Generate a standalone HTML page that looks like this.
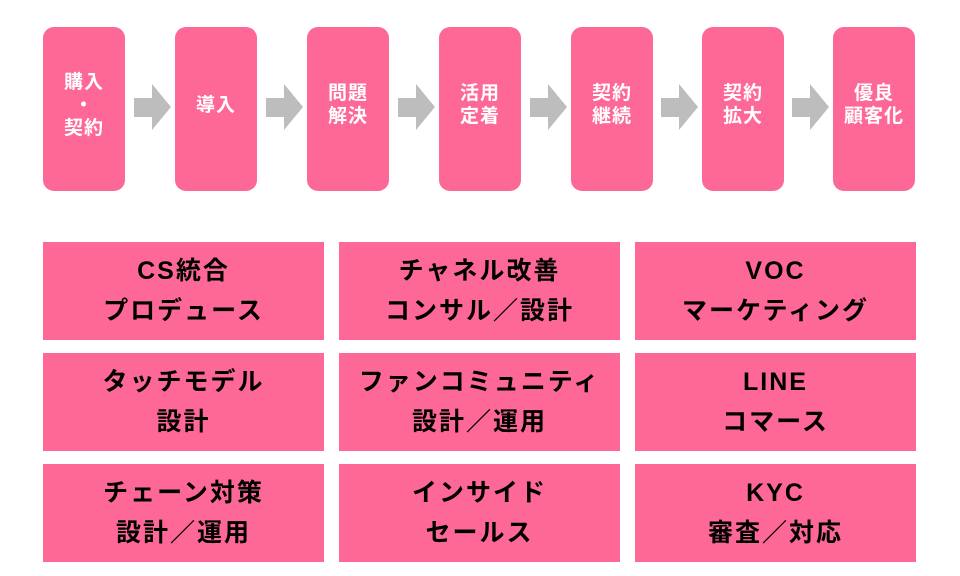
<!DOCTYPE html>
<html><head><meta charset="utf-8"><style>
body{margin:0;width:960px;height:576px;background:#fff;position:relative;overflow:hidden;font-family:"Liberation Sans","Noto Sans CJK JP",sans-serif}
.s{position:absolute;top:27px;width:82px;height:164px;background:#fe6896;border-radius:11px;color:#fff;font-weight:bold;font-size:19px;line-height:23px;display:flex;align-items:center;justify-content:center;text-align:center;padding-bottom:8px;box-sizing:border-box;letter-spacing:1px}
.c{position:absolute;width:281px;height:98px;background:#fe6896;color:#000;font-weight:bold;font-size:25px;line-height:40px;display:flex;align-items:center;justify-content:center;text-align:center;letter-spacing:2px}
svg{position:absolute;top:0;left:0}
</style></head><body>
<div class="s" style="left:43px">購入<br>・<br>契約</div>
<div class="s" style="left:175px">導入</div>
<div class="s" style="left:307px">問題<br>解決</div>
<div class="s" style="left:439px">活用<br>定着</div>
<div class="s" style="left:571px">契約<br>継続</div>
<div class="s" style="left:702px">契約<br>拡大</div>
<div class="s" style="left:833px">優良<br>顧客化</div>
<svg width="960" height="576">
<g fill="#bdbdbd">
<polygon points="134,98 152,98 152,84 171,107 152,130 152,117 134,117"/>
<polygon points="266,98 284,98 284,84 303,107 284,130 284,117 266,117"/>
<polygon points="398,98 416,98 416,84 435,107 416,130 416,117 398,117"/>
<polygon points="530,98 548,98 548,84 567,107 548,130 548,117 530,117"/>
<polygon points="661,98 679,98 679,84 698,107 679,130 679,117 661,117"/>
<polygon points="792,98 810,98 810,84 829,107 810,130 810,117 792,117"/>
</g></svg>
<div class="c" style="left:43px;top:242px">CS統合<br>プロデュース</div>
<div class="c" style="left:339px;top:242px">チャネル改善<br>コンサル／設計</div>
<div class="c" style="left:635px;top:242px">VOC<br>マーケティング</div>
<div class="c" style="left:43px;top:353px">タッチモデル<br>設計</div>
<div class="c" style="left:339px;top:353px">ファンコミュニティ<br>設計／運用</div>
<div class="c" style="left:635px;top:353px">LINE<br>コマース</div>
<div class="c" style="left:43px;top:464px">チェーン対策<br>設計／運用</div>
<div class="c" style="left:339px;top:464px">インサイド<br>セールス</div>
<div class="c" style="left:635px;top:464px">KYC<br>審査／対応</div>
</body></html>
